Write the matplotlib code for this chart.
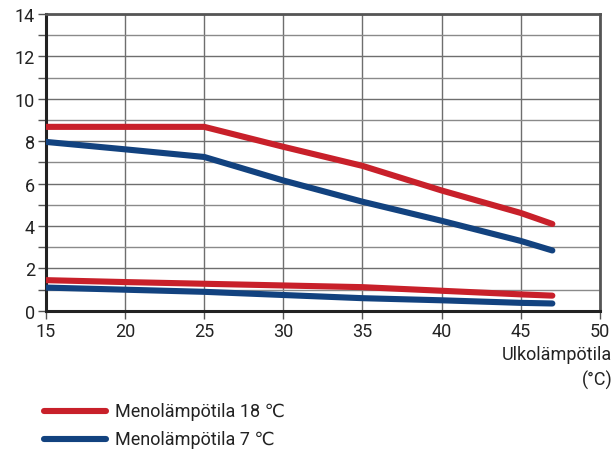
import matplotlib
matplotlib.use("Agg")
import matplotlib.pyplot as plt
from matplotlib.ticker import MultipleLocator
from matplotlib.lines import Line2D

plt.rcParams['font.family'] = ['Roboto', 'DejaVu Sans']

# Outdoor temperature (°C)
outdoor = [15, 20, 25, 30, 35, 40, 45, 47]

# Upper curves
red_upper = [8.68, 8.68, 8.68, 7.74, 6.84, 5.68, 4.62, 4.10]
blue_upper = [7.97, 7.62, 7.26, 6.15, 5.15, 4.25, 3.30, 2.85]

# Lower curves
red_lower = [1.45, 1.36, 1.28, 1.20, 1.12, 0.95, 0.78, 0.72]
blue_lower = [1.10, 1.00, 0.90, 0.75, 0.60, 0.50, 0.38, 0.35]

series_labels = ["Menolämpötila 18 \u2103", "Menolämpötila 7 \u2103"]
x_label_lines = ["Ulkolämpötila", "(°C)"]

RED = "#c8202a"
BLUE = "#12427f"

fig = plt.figure(figsize=(6.14, 4.56), dpi=100)
ax = fig.add_axes([0.0749, 0.316, 0.902, 0.651])

lw = 4.4
for ys, c in [(red_upper, RED), (blue_upper, BLUE), (red_lower, RED), (blue_lower, BLUE)]:
    ax.plot(outdoor, ys, color=c, lw=lw, solid_capstyle='round', solid_joinstyle='round', zorder=3)

ax.set_xlim(15, 50)
ax.set_ylim(0, 14)
ax.xaxis.set_major_locator(MultipleLocator(5))
ax.yaxis.set_major_locator(MultipleLocator(2))
ax.yaxis.set_minor_locator(MultipleLocator(1))

ax.grid(True, which='major', color='#6e6e6e', lw=1.0, zorder=1)
ax.grid(True, which='minor', axis='y', color='#8a8a8a', lw=1.0, zorder=1)

for side in ['left', 'bottom']:
    ax.spines[side].set_color('#222222')
    ax.spines[side].set_linewidth(2.2)
for side in ['top', 'right']:
    ax.spines[side].set_color('#555555')
    ax.spines[side].set_linewidth(2.0)

ax.tick_params(axis='both', which='major', direction='out', length=6, width=1.0,
               color='#555555', labelsize=13, labelcolor='#222222', pad=2)
ax.tick_params(axis='y', which='minor', direction='out', length=6, width=1.0, color='#555555')

# Axis title, right-aligned under the x tick labels
fig.text(0.997, 1 - 355 / 456, x_label_lines[0], ha='right', va='center',
         fontsize=13, color='#222222')
fig.text(0.997, 1 - 380 / 456, x_label_lines[1], ha='right', va='center',
         fontsize=13, color='#222222')

# Legend drawn manually below the plot
for i, (lab, c) in enumerate(zip(series_labels, [RED, BLUE])):
    y = 0.097 - i * 0.061
    fig.add_artist(Line2D([0.072, 0.173], [y, y], color=c, lw=lw,
                          solid_capstyle='round', transform=fig.transFigure))
    fig.text(0.187, y, lab, ha='left', va='center', fontsize=13, color='#222222')

fig.savefig("out.png", dpi=100)
